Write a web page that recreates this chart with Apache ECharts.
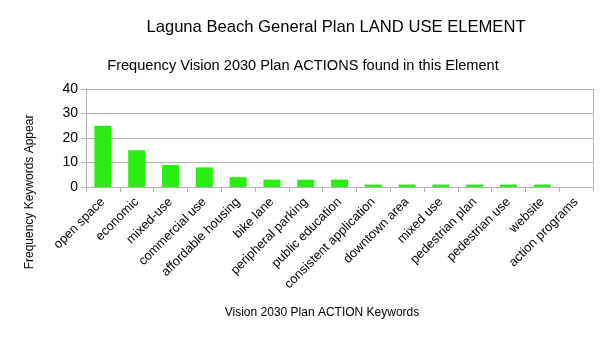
<!DOCTYPE html>
<html>
<head>
<meta charset="utf-8">
<style>
  html, body { margin: 0; padding: 0; background: #fff; }
  #chart { width: 605px; height: 340px; }
</style>
<script src="https://cdn.jsdelivr.net/npm/echarts@6/dist/echarts.min.js"></script>
</head>
<body>
<div id="chart"></div>
<script>
// Keywords and how often each appears in the element
const keywords = [
  'open space', 'economic', 'mixed-use', 'commercial use', 'affordable housing',
  'bike lane', 'peripheral parking', 'public education', 'consistent application',
  'downtown area', 'mixed use', 'pedestrian plan', 'pedestrian use', 'website',
  'action programs'
];
const frequency = [25, 15, 9, 8, 4, 3, 3, 3, 1, 1, 1, 1, 1, 1, 0];
const yTicks = [0, 10, 20, 30, 40];

const font = 'Liberation Sans, Arial, sans-serif';
const chart = echarts.init(document.getElementById('chart'), null, { renderer: 'canvas' });

chart.setOption({
  animation: false,
  textStyle: { fontFamily: font },
  title: [
    {
      text: 'Laguna Beach General Plan LAND USE ELEMENT',
      left: 331, top: 14, textAlign: 'center',
      textStyle: { fontSize: 16.6, fontWeight: 'normal', color: '#000', fontFamily: font }
    },
    {
      text: 'Frequency Vision 2030 Plan ACTIONS found in this Element',
      left: 298, top: 53, textAlign: 'center',
      textStyle: { fontSize: 14.6, fontWeight: 'normal', color: '#000', fontFamily: font }
    }
  ],
  grid: { left: 86, right: 12, top: 89, height: 98, containLabel: false },
  xAxis: {
    type: 'category',
    data: keywords,
    boundaryGap: true,
    axisLine: { lineStyle: { color: '#b3b3b3' } },
    axisTick: { show: true, alignWithLabel: false, length: 5, lineStyle: { color: '#b3b3b3' } },
    axisLabel: {
      rotate: 45, interval: 0, fontSize: 12.8, color: '#000', fontFamily: font, margin: 13
    }
  },
  yAxis: {
    type: 'value',
    min: yTicks[0], max: yTicks[yTicks.length - 1], interval: 10,
    axisLine: { show: true, lineStyle: { color: '#b3b3b3' } },
    axisTick: { show: true, length: 5, lineStyle: { color: '#b3b3b3' } },
    axisLabel: { fontSize: 14, color: '#000', fontFamily: font, margin: 8 },
    splitLine: { show: true, lineStyle: { color: '#b3b3b3' } }
  },
  series: [{
    type: 'bar',
    data: frequency,
    barWidth: 17,
    itemStyle: { color: '#2aee12' }
  }],
  graphic: [
    // right border of the plot frame
    {
      type: 'line',
      shape: { x1: 593.5, y1: 89, x2: 593.5, y2: 192 },
      style: { stroke: '#b3b3b3', lineWidth: 1 }
    },
    // axis titles
    {
      type: 'text',
      x: 30, y: 192, rotation: Math.PI / 2,
      style: {
        text: 'Frequency Keywords Appear', fontSize: 12, fontFamily: font,
        fill: '#000', align: 'center', verticalAlign: 'middle'
      }
    },
    {
      type: 'text',
      x: 322, y: 313,
      style: {
        text: 'Vision 2030 Plan ACTION Keywords', fontSize: 12, fontFamily: font,
        fill: '#000', align: 'center', verticalAlign: 'middle'
      }
    }
  ]
});
</script>
</body>
</html>
